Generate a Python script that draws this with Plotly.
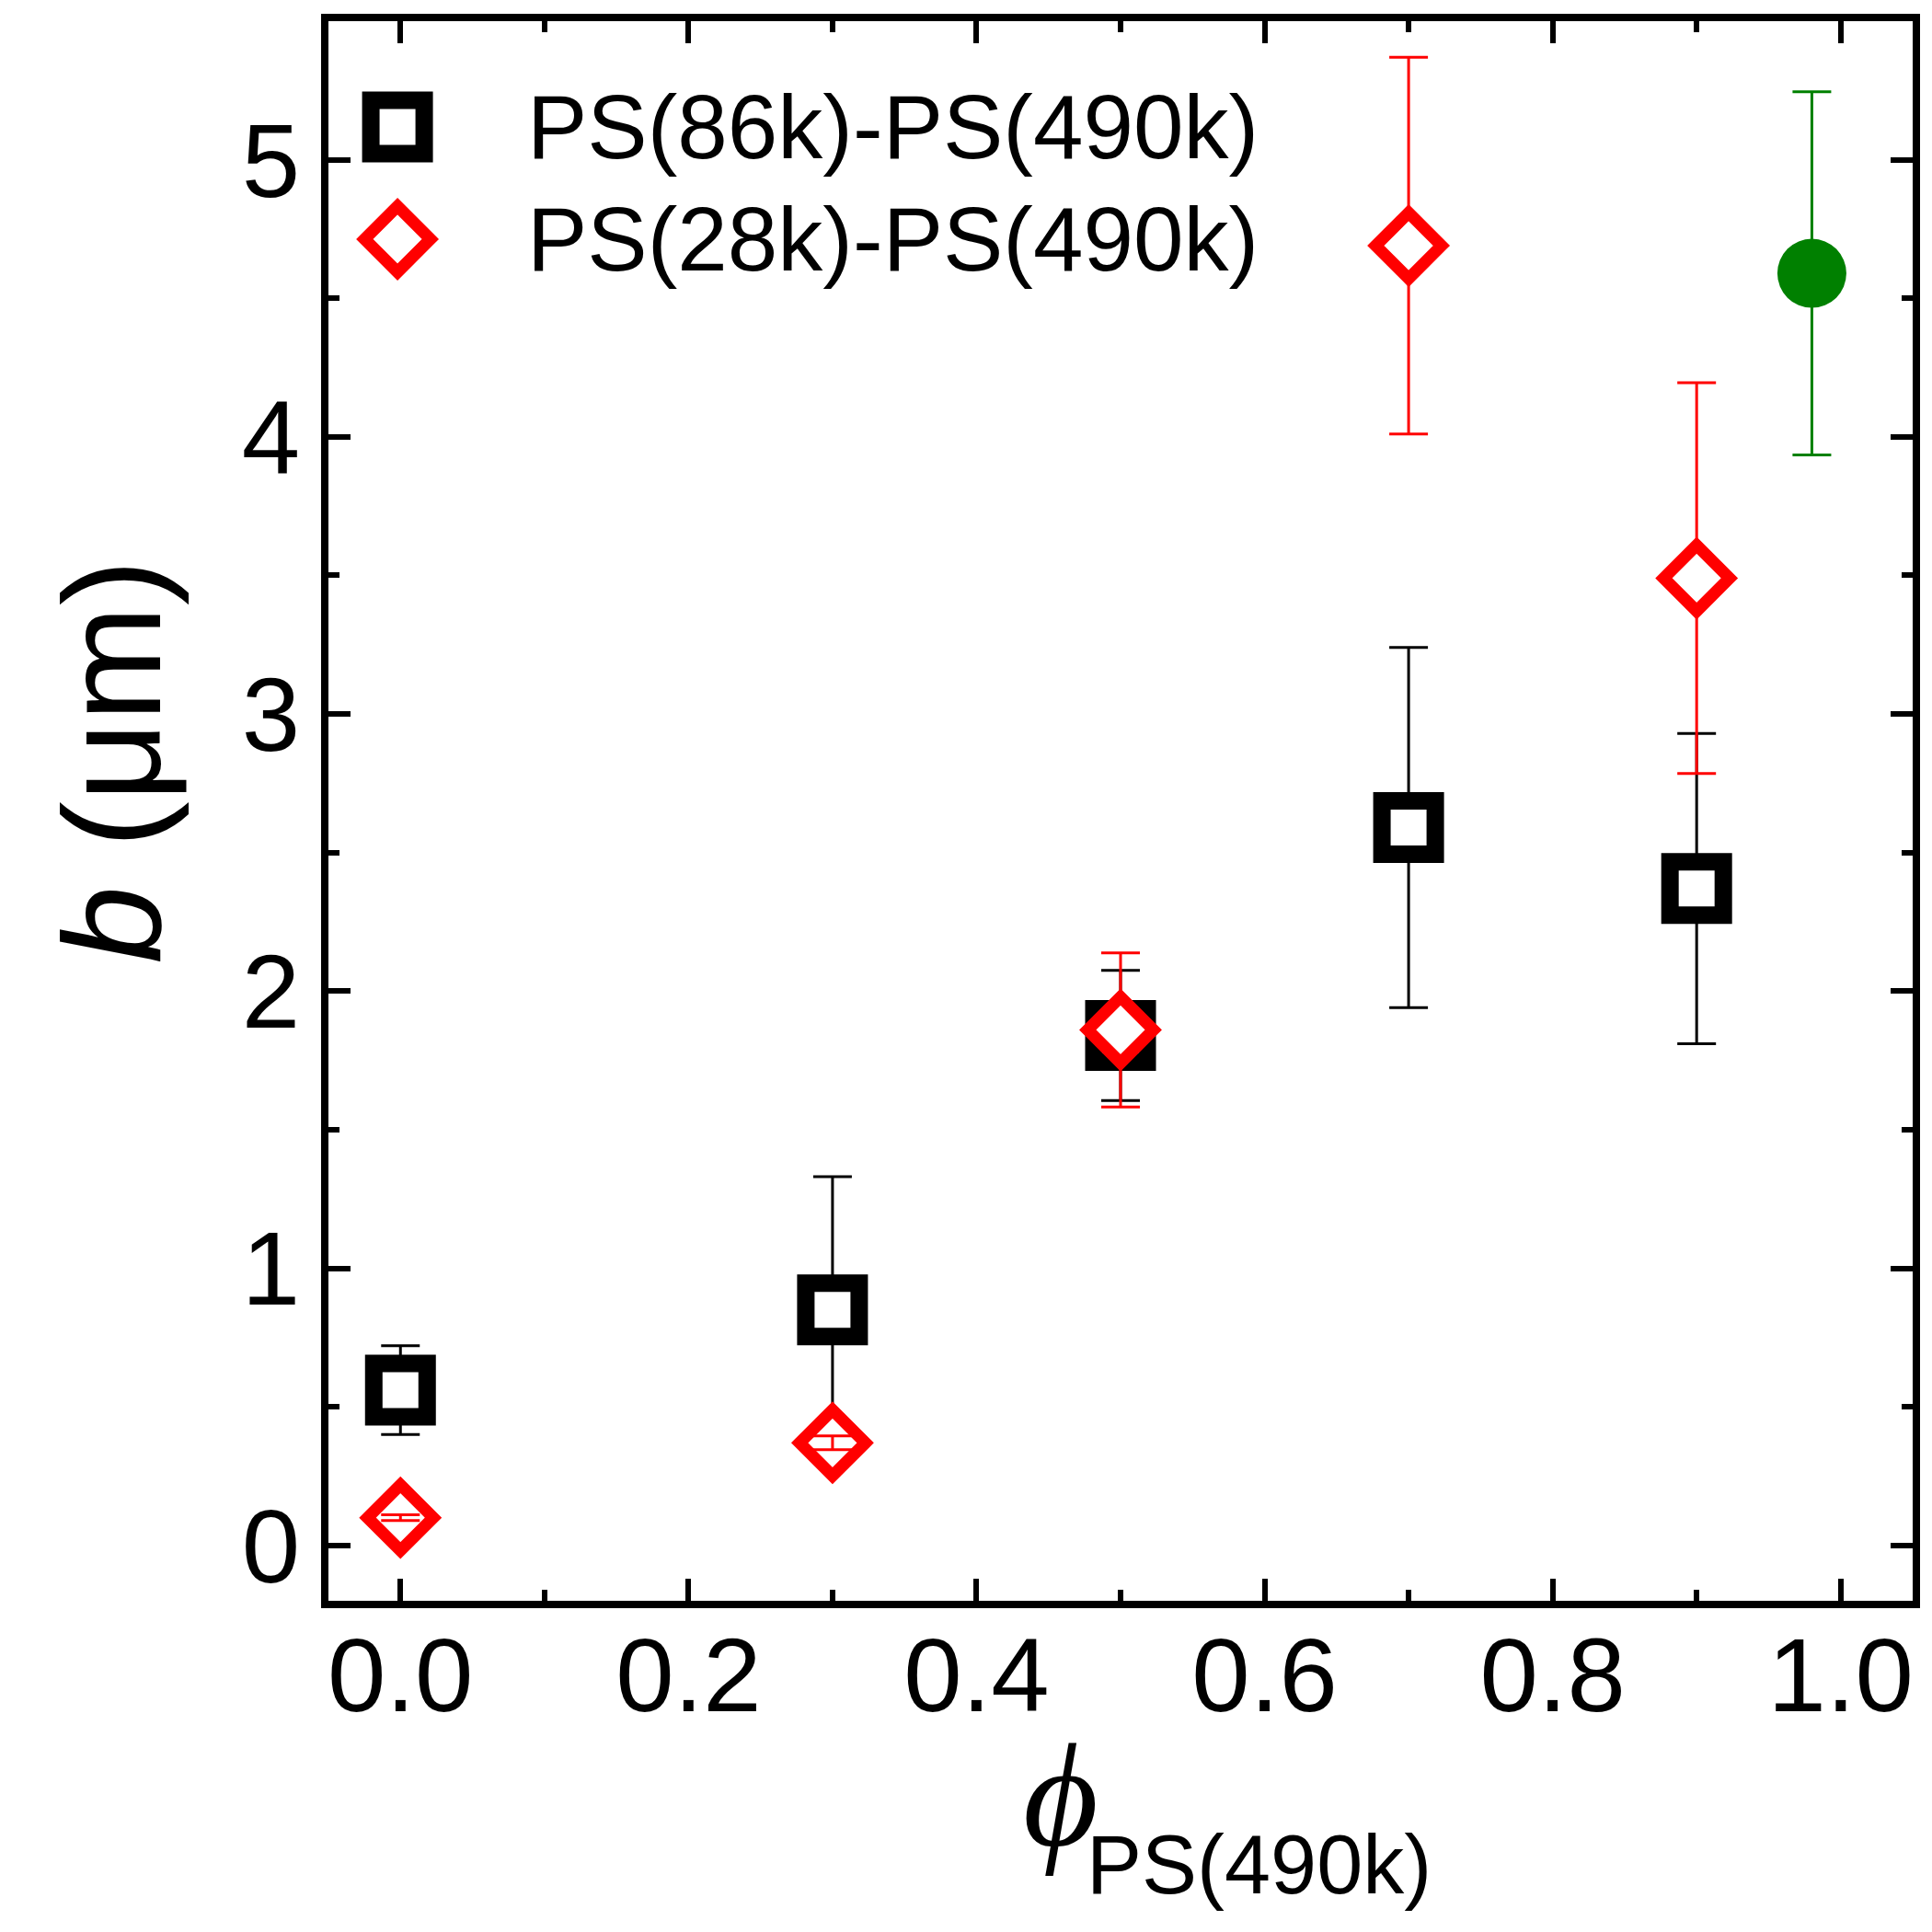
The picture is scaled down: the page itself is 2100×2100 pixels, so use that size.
import plotly.graph_objects as go

# PS(86k)-PS(490k) blend, black squares
phi_86k = [0.0, 0.3, 0.5, 0.7, 0.9]
b_86k = [0.56, 0.85, 1.84, 2.59, 2.37]
err_86k = [0.16, 0.48, 0.235, 0.65, 0.56]

# PS(28k)-PS(490k) blend, red diamonds
phi_28k = [0.0, 0.3, 0.5, 0.7, 0.9]
b_28k = [0.10, 0.37, 1.86, 4.69, 3.49]
err_28k = [0.01, 0.025, 0.278, 0.68, 0.705]

# pure PS(490k), green circle
phi_490k = [0.98]
b_490k = [4.59]
err_490k = [0.655]

names = ["PS(86k)-PS(490k)", "PS(28k)-PS(490k)"]

FONT = "Liberation Sans"
RED = "#ff0000"
GREEN = "#008000"

fig = go.Figure()

fig.add_trace(go.Scatter(
    x=phi_86k, y=b_86k, mode="markers", showlegend=False,
    marker=dict(symbol="square", size=58, color="white", line=dict(color="black", width=19)),
    error_y=dict(type="data", array=err_86k, color="black", thickness=3, width=21)))

fig.add_trace(go.Scatter(
    x=phi_28k, y=b_28k, mode="markers", showlegend=False,
    marker=dict(symbol="diamond", size=55, color="white", line=dict(color=RED, width=13)),
    error_y=dict(type="data", array=err_28k, color=RED, thickness=3, width=21)))

# small red bars are drawn over the diamonds in the original
fig.add_trace(go.Scatter(
    x=phi_28k[:2], y=b_28k[:2], mode="markers", showlegend=False,
    marker=dict(size=1, color="rgba(0,0,0,0)"),
    error_y=dict(type="data", array=err_28k[:2], color=RED, thickness=3, width=21)))

fig.add_trace(go.Scatter(
    x=phi_490k, y=b_490k, mode="markers", showlegend=False,
    marker=dict(symbol="circle", size=75, color=GREEN),
    error_y=dict(type="data", array=err_490k, color=GREEN, thickness=3, width=21)))

# hand made legend on a hidden overlay axis (big symbols)
leg_x = 0.0436
leg_rows = [0.933, 0.862]
fig.add_trace(go.Scatter(
    x=[leg_x], y=[leg_rows[0]], xaxis="x2", yaxis="y2", mode="markers", showlegend=False,
    marker=dict(symbol="square", size=58, color="white", line=dict(color="black", width=19))))
fig.add_trace(go.Scatter(
    x=[leg_x], y=[leg_rows[1]], xaxis="x2", yaxis="y2", mode="markers", showlegend=False,
    marker=dict(symbol="diamond", size=55, color="white", line=dict(color=RED, width=13))))
for name, ry in zip(names, leg_rows):
    fig.add_annotation(x=0.124, y=ry, xref="x domain", yref="y domain", text=name,
                       showarrow=False, xanchor="left", yanchor="middle",
                       font=dict(family=FONT, size=98, color="black"))

# axis titles
fig.add_annotation(x=-0.137, y=0.531, xref="x domain", yref="y domain",
                   text="<i>b</i> (μm)", textangle=-90, showarrow=False,
                   xanchor="center", yanchor="middle",
                   font=dict(family=FONT, size=151, color="black"))
fig.add_annotation(x=0.4623, y=-0.123, xref="x domain", yref="y domain",
                   text="<i>ϕ</i>", showarrow=False, xanchor="center", yanchor="middle",
                   font=dict(family="Liberation Serif", size=158, color="black"))
fig.add_annotation(x=0.4774, y=-0.167, xref="x domain", yref="y domain",
                   text="PS(490k)", showarrow=False, xanchor="left", yanchor="middle",
                   font=dict(family=FONT, size=90, color="black"))

axis_common = dict(showline=True, linecolor="black", linewidth=8, mirror="allticks",
                   ticks="inside", ticklen=24, tickwidth=6, tickcolor="black",
                   showgrid=False, zeroline=False,
                   tickfont=dict(family=FONT, size=114, color="black"))

fig.update_layout(
    width=2100, height=2100,
    margin=dict(l=349, r=29, t=7, b=368),
    paper_bgcolor="white", plot_bgcolor="white",
    xaxis=dict(range=[-0.05, 1.05], tick0=0, dtick=0.2, tickformat=".1f",
               ticklabelstandoff=-25,
               minor=dict(ticks="inside", ticklen=12, tickwidth=6, tickcolor="black", dtick=0.1, tick0=0),
               **axis_common),
    yaxis=dict(range=[-0.2, 5.5], tick0=0, dtick=1,
               minor=dict(ticks="inside", ticklen=12, tickwidth=6, tickcolor="black", dtick=0.5, tick0=0),
               **axis_common),
    xaxis2=dict(overlaying="x", range=[0, 1], visible=False),
    yaxis2=dict(overlaying="y", range=[0, 1], visible=False),
)

fig.write_html("out.html")
